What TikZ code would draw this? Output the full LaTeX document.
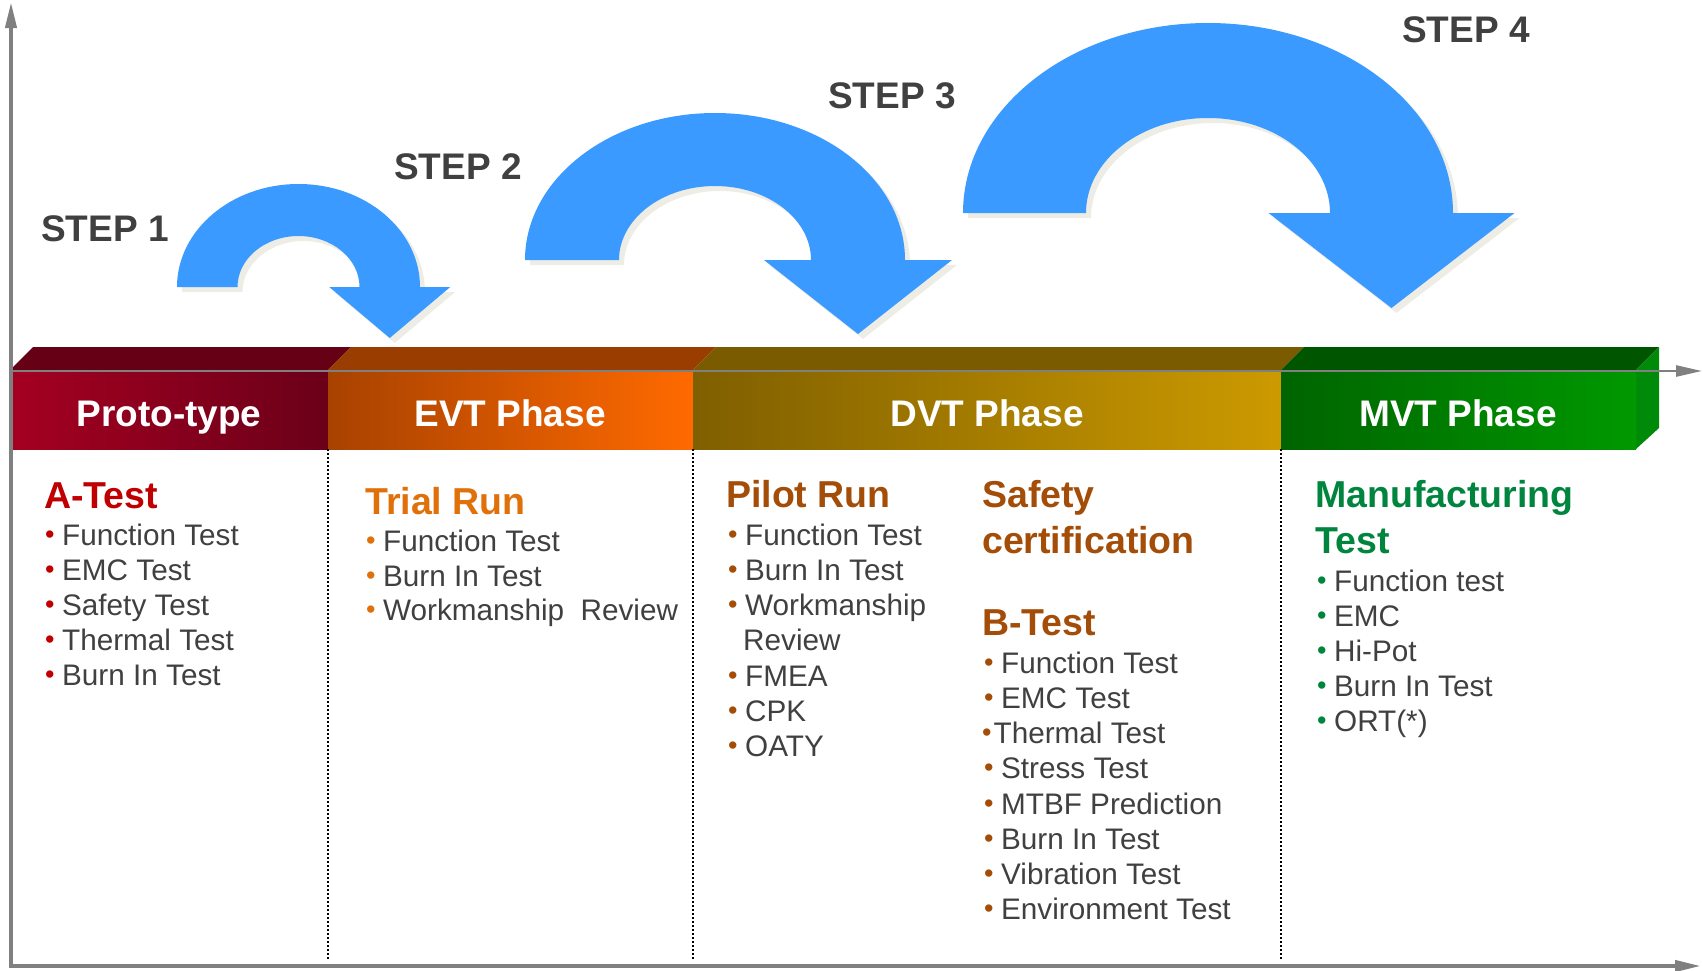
\documentclass[tikz,border=0pt]{standalone}
\usepackage{fontspec}
\setmainfont{Liberation Sans}
\usepackage{tikz}
\usetikzlibrary{arrows.meta}
\definecolor{stepblue}{HTML}{3A9AFF}
\definecolor{stepshadow}{HTML}{EDEDE6}
\definecolor{axisgray}{HTML}{808080}
\definecolor{textgray}{HTML}{404040}
\definecolor{protored}{HTML}{C00000}
\definecolor{evtorange}{HTML}{E0700A}
\definecolor{dvtbrown}{HTML}{A34D08}
\definecolor{mvtgreen}{HTML}{00853E}
\newcommand{\bandtop}{370}
\newcommand{\bandbot}{449}
\newcommand{\bandback}{347}
\newcommand{\bul}[1]{\textcolor{#1}{\raisebox{1.5pt}{\fontsize{27}{27}\selectfont\textbullet}}}
\newcommand{\itm}[2]{\bul{#1}\hspace{7.5pt}#2}
% curved step arrow: options, centre x, base y, outer rx, outer ry, inner rx, inner ry
\newcommand{\steparrow}[7]{%
\fill[#1] ({#2-#4},#3) arc[start angle=180,end angle=360,x radius=#4,y radius=#5]
 -- ({#2+1.5*#4-0.5*#6},#3) -- ({#2+0.5*#4+0.5*#6},{#3+#7}) -- ({#2-0.5*#4+1.5*#6},#3)
 -- ({#2+#6},#3) arc[start angle=0,end angle=-180,x radius=#6,y radius=#7] -- cycle;}
\tikzset{
 bodytext/.style={anchor=base west, inner sep=0pt, text=textgray, font=\fontsize{29.7}{35}\selectfont},
 headtext/.style={anchor=base west, inner sep=0pt, font=\bfseries\fontsize{37.5}{45}\selectfont},
 bandtext/.style={anchor=base, inner sep=0pt, text=white, font=\bfseries\fontsize{37}{44}\selectfont},
 steptext/.style={anchor=base west, inner sep=0pt, text=textgray, font=\bfseries\fontsize{37}{44}\selectfont},
 axisline/.style={draw=axisgray, line width=4pt},
 sepline/.style={line width=2.5pt, dash pattern=on 2pt off 2pt},
}

\begin{document}
\begin{tikzpicture}[x=1pt, y=-1pt]
\useasboundingbox (0,0) rectangle (1703,970);
%steps
\steparrow{stepshadow, shift={(5,5)}}{298.5}{287}{121.5}{103}{61}{51}
\steparrow{stepshadow, shift={(5,5)}}{715}{260}{190}{147}{96}{74}
\steparrow{stepshadow, shift={(5,5)}}{1208}{213}{245}{190}{122}{95}
\steparrow{stepblue}{298.5}{287}{121.5}{103}{61}{51}
\steparrow{stepblue}{715}{260}{190}{147}{96}{74}
\steparrow{stepblue}{1208}{213}{245}{190}{122}{95}
\node[steptext] (s1) at (41,241) {STEP 1};
\node[steptext] (s2) at (394,179) {STEP 2};
\node[steptext] (s3) at (828,108) {STEP 3};
\node[steptext] (s4) at (1402,42) {STEP 4};
%band
\fill[fill={rgb,255:red,102;green,0;blue,20}] (10,\bandtop) -- (33,\bandback) -- (351,\bandback) -- (328,\bandtop) -- cycle;
\fill[fill={rgb,255:red,154;green,61;blue,0}] (328,\bandtop) -- (351,\bandback) -- (716,\bandback) -- (693,\bandtop) -- cycle;
\fill[fill={rgb,255:red,122;green,91;blue,0}] (693,\bandtop) -- (716,\bandback) -- (1304,\bandback) -- (1281,\bandtop) -- cycle;
\fill[fill={rgb,255:red,0;green,85;blue,0}] (1281,\bandtop) -- (1304,\bandback) -- (1659,\bandback) -- (1636,\bandtop) -- cycle;
\fill[fill={rgb,255:red,0;green,138;blue,10}] (1636,\bandtop) -- (1659,\bandback) -- (1659,428) -- (1636,\bandbot) -- cycle;
\shade[left color={rgb,255:red,165;green,0;blue,33}, right color={rgb,255:red,107;green,0;blue,25}] (10,\bandtop) rectangle (328,\bandbot);
\shade[left color={rgb,255:red,168;green,66;blue,0}, right color={rgb,255:red,255;green,106;blue,0}] (328,\bandtop) rectangle (693,\bandbot);
\shade[left color={rgb,255:red,127;green,95;blue,0}, right color={rgb,255:red,204;green,154;blue,0}] (693,\bandtop) rectangle (1281,\bandbot);
\shade[left color={rgb,255:red,0;green,100;blue,0}, right color={rgb,255:red,0;green,153;blue,0}] (1281,\bandtop) rectangle (1636,\bandbot);
\node[bandtext] (proto) at (169,426) {Proto-type};
\node[bandtext] (evt) at (510,426) {EVT Phase};
\node[bandtext] (dvt) at (987,426) {DVT Phase};
\node[bandtext] (mvt) at (1458,426) {MVT Phase};
%axes
\draw[axisline, {Triangle[length=26pt,width=11pt]}-{Triangle[length=26pt,width=11pt]}] (11,2) -- (11,966) -- (1701,966);
\draw[draw=axisgray, line width=2.5pt, -{Triangle[length=26pt,width=11pt]}] (10,371) -- (1702,371);
\draw[sepline] (328,\bandbot) -- (328,960);
\draw[sepline] (693,\bandbot) -- (693,960);
\draw[sepline] (1281,\bandbot) -- (1281,960);
%proto
\node[headtext, text=protored] (a0) at (44,508) {A-Test};
\node[bodytext] (a1) at (45,545) {\itm{protored}{Function Test}};
\node[bodytext] (a2) at (45,580) {\itm{protored}{EMC Test}};
\node[bodytext] (a3) at (45,615) {\itm{protored}{Safety Test}};
\node[bodytext] (a4) at (45,650) {\itm{protored}{Thermal Test}};
\node[bodytext] (a5) at (45,685) {\itm{protored}{Burn In Test}};
%evt
\node[headtext, text=evtorange] (t0) at (365,514) {Trial Run};
\node[bodytext] (t1) at (366,551) {\itm{evtorange}{Function Test}};
\node[bodytext] (t2) at (366,586) {\itm{evtorange}{Burn In Test}};
\node[bodytext] (t3) at (366,620) {\itm{evtorange}{Workmanship\ \ Review}};
%dvt pilot
\node[headtext, text=dvtbrown] (p0) at (726,507) {Pilot Run};
\node[bodytext] (p1) at (728,545) {\itm{dvtbrown}{Function Test}};
\node[bodytext] (p2) at (728,580) {\itm{dvtbrown}{Burn In Test}};
\node[bodytext] (p3) at (728,615) {\itm{dvtbrown}{Workmanship}};
\node[bodytext] (p4) at (743,650) {Review};
\node[bodytext] (p5) at (728,686) {\itm{dvtbrown}{FMEA}};
\node[bodytext] (p6) at (728,721) {\itm{dvtbrown}{CPK}};
\node[bodytext] (p7) at (728,756) {\itm{dvtbrown}{OATY}};
%dvt safety
\node[headtext, text=dvtbrown] (b0) at (982,507) {Safety};
\node[headtext, text=dvtbrown] (b1) at (982,553) {certification};
\node[headtext, text=dvtbrown] (b2) at (982,635) {B-Test};
\node[bodytext] (b3) at (984,673) {\itm{dvtbrown}{Function Test}};
\node[bodytext] (b4) at (984,708) {\itm{dvtbrown}{EMC Test}};
\node[bodytext] (b5) at (982,743) {\bul{dvtbrown}\hspace{2pt}Thermal Test};
\node[bodytext] (b6) at (984,778) {\itm{dvtbrown}{Stress Test}};
\node[bodytext] (b7) at (984,814) {\itm{dvtbrown}{MTBF Prediction}};
\node[bodytext] (b8) at (984,849) {\itm{dvtbrown}{Burn In Test}};
\node[bodytext] (b9) at (984,884) {\itm{dvtbrown}{Vibration Test}};
\node[bodytext] (b10) at (984,919) {\itm{dvtbrown}{Environment Test}};
%mvt
\node[headtext, text=mvtgreen] (m0) at (1315,507) {Manufacturing};
\node[headtext, text=mvtgreen] (m1) at (1315,553) {Test};
\node[bodytext] (m2) at (1317,591) {\itm{mvtgreen}{Function test}};
\node[bodytext] (m3) at (1317,626) {\itm{mvtgreen}{EMC}};
\node[bodytext] (m4) at (1317,661) {\itm{mvtgreen}{Hi-Pot}};
\node[bodytext] (m5) at (1317,696) {\itm{mvtgreen}{Burn In Test}};
\node[bodytext] (m6) at (1317,731) {\itm{mvtgreen}{ORT(*)}};
\end{tikzpicture}
\end{document}
